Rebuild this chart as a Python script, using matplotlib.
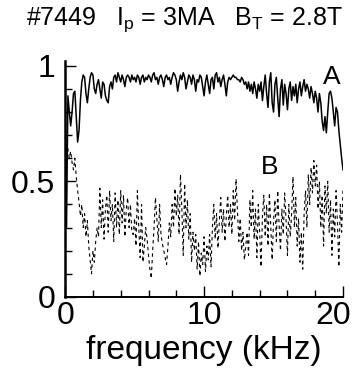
import numpy as np
import matplotlib
matplotlib.use("Agg")
import matplotlib.pyplot as plt
from matplotlib.transforms import ScaledTranslation

# coherence spectra, #7449 (0.1 kHz steps)
curve_A = [
    0.90, 0.30, 0.87, 0.80, 0.74, 0.80, 0.88, 0.89, 0.78, 0.67,
    0.72, 0.85, 0.93, 0.96, 0.95, 0.88, 0.84, 0.90, 0.95, 0.97,
    0.96, 0.90, 0.88, 0.92, 0.94, 0.90, 0.86, 0.93, 0.92, 0.87,
    0.85, 0.84, 0.91, 0.93, 0.90, 0.95, 0.96, 0.93, 0.97, 0.95,
    0.93, 0.96, 0.94, 0.91, 0.95, 0.96, 0.95, 0.93, 0.96, 0.94,
    0.95, 0.93, 0.96, 0.95, 0.92, 0.95, 0.96, 0.93, 0.95, 0.94,
    0.96, 0.95, 0.93, 0.96, 0.97, 0.94, 0.95, 0.92, 0.95, 0.96,
    0.94, 0.91, 0.95, 0.96, 0.94, 0.95, 0.92, 0.95, 0.97, 0.96,
    0.94, 0.89, 0.93, 0.96, 0.94, 0.97, 0.95, 0.90, 0.93, 0.96,
    0.95, 0.92, 0.96, 0.94, 0.89, 0.94, 0.93, 0.96, 0.95, 0.91,
    0.87, 0.93, 0.96, 0.92, 0.88, 0.94, 0.95, 0.90, 0.96, 0.97,
    0.93, 0.95, 0.91, 0.94, 0.96, 0.92, 0.87, 0.93, 0.95, 0.94,
    0.95, 0.96, 0.95, 0.95, 0.94, 0.94, 0.93, 0.95, 0.94, 0.92,
    0.93, 0.90, 0.93, 0.89, 0.92, 0.88, 0.93, 0.90, 0.86, 0.92,
    0.89, 0.93, 0.85, 0.91, 0.96, 0.88, 0.82, 0.93, 0.97, 0.84,
    0.80, 0.92, 0.95, 0.86, 0.78, 0.90, 0.94, 0.83, 0.92, 0.88,
    0.81, 0.90, 0.93, 0.85, 0.91, 0.87, 0.92, 0.84, 0.90, 0.93,
    0.87, 0.91, 0.94, 0.89, 0.92, 0.90, 0.86, 0.91, 0.88, 0.84,
    0.89, 0.86, 0.80, 0.88, 0.84, 0.76, 0.72, 0.78, 0.71, 0.80,
    0.88, 0.89, 0.86, 0.80, 0.74, 0.82, 0.80, 0.72, 0.66, 0.60,
    0.55,
]

curve_B = [
    0.62, 0.66, 0.64, 0.60, 0.63, 0.58, 0.55, 0.60, 0.52, 0.46,
    0.41, 0.35, 0.40, 0.30, 0.36, 0.26, 0.33, 0.22, 0.16, 0.10,
    0.20, 0.15, 0.24, 0.30, 0.26, 0.47, 0.30, 0.42, 0.25, 0.38,
    0.44, 0.28, 0.46, 0.33, 0.40, 0.24, 0.45, 0.30, 0.42, 0.27,
    0.46, 0.32, 0.44, 0.26, 0.38, 0.43, 0.30, 0.40, 0.28, 0.27,
    0.34, 0.22, 0.46, 0.30, 0.17, 0.40, 0.15, 0.22, 0.30, 0.25,
    0.18, 0.12, 0.08, 0.20, 0.30, 0.43, 0.34, 0.24, 0.40, 0.27,
    0.23, 0.20, 0.17, 0.14, 0.22, 0.32, 0.26, 0.40, 0.30, 0.47,
    0.35, 0.44, 0.27, 0.53, 0.38, 0.18, 0.49, 0.30, 0.42, 0.25,
    0.36, 0.15, 0.28, 0.20, 0.27, 0.12, 0.24, 0.09, 0.19, 0.14,
    0.26, 0.11, 0.22, 0.16, 0.27, 0.13, 0.30, 0.40, 0.25, 0.36,
    0.21, 0.33, 0.43, 0.28, 0.38, 0.24, 0.35, 0.44, 0.30, 0.40,
    0.27, 0.46, 0.33, 0.51, 0.37, 0.24, 0.34, 0.20, 0.28, 0.16,
    0.22, 0.28, 0.18, 0.42, 0.30, 0.46, 0.25, 0.38, 0.17, 0.40,
    0.28, 0.13, 0.35, 0.44, 0.26, 0.40, 0.22, 0.45, 0.30, 0.16,
    0.33, 0.42, 0.24, 0.46, 0.31, 0.20, 0.38, 0.27, 0.45, 0.33,
    0.18, 0.40, 0.26, 0.36, 0.52, 0.30, 0.43, 0.22, 0.34, 0.15,
    0.28, 0.12, 0.36, 0.46, 0.30, 0.53, 0.40, 0.56, 0.45, 0.59,
    0.48, 0.57, 0.38, 0.50, 0.30, 0.44, 0.22, 0.48, 0.36, 0.50,
    0.28, 0.42, 0.18, 0.38, 0.26, 0.46, 0.32, 0.13, 0.40, 0.28,
    0.47,
]

x_major = [0, 10, 20]
x_minor = [2, 4, 6, 8, 12, 14, 16, 18]
y_major = [0, 0.5, 1.0]
y_minor = [0.1, 0.2, 0.3, 0.4, 0.6, 0.7, 0.8, 0.9]
x_ticklabels = ["0", "10", "20"]
y_ticklabels = ["0", "0.5", "1"]

title = r"#7449   $\mathrm{I_p}$ = 3MA   $\mathrm{B_T}$ = 2.8T"

plt.rcParams["font.family"] = ["Liberation Sans", "DejaVu Sans"]
plt.rcParams["mathtext.fontset"] = "custom"
plt.rcParams["mathtext.rm"] = "Liberation Sans"

freq_A = np.linspace(0, 20, len(curve_A))
freq_B = np.linspace(0, 20, len(curve_B))

fig = plt.figure(figsize=(3.54, 3.73), dpi=100)
ax = fig.add_axes([0.184, 0.204, 0.785, 0.632])

ax.plot(freq_A, curve_A, color="black", lw=1.1)
ax.plot(freq_B, curve_B, color="black", lw=0.8, dashes=(3, 3))

ax.set_xlim(0, 20)
ax.set_ylim(0, 1.02)
ax.set_xticks(x_major)
ax.set_xticklabels(x_ticklabels)
ax.set_xticks(x_minor, minor=True)
ax.set_yticks(y_major)
ax.set_yticklabels(y_ticklabels)
ax.set_yticks(y_minor, minor=True)
ax.tick_params(which="major", direction="in", length=8, width=1, labelsize=23)
ax.tick_params(which="minor", direction="in", length=5, width=1)
ax.tick_params(axis="y", which="major", pad=7)
ax.tick_params(axis="x", which="major", pad=3)

# pull the "20" label in a little, as in the original
lbl = ax.get_xticklabels()[-1]
lbl.set_transform(lbl.get_transform() + ScaledTranslation(-7 / 72, 0, fig.dpi_scale_trans))

ax.spines["top"].set_visible(False)
ax.spines["right"].set_visible(False)
ax.spines["left"].set_linewidth(1.8)
ax.spines["bottom"].set_linewidth(1.4)

ax.set_xlabel("frequency (kHz)", fontsize=24, labelpad=3)
ax.text(19.2, 0.95, "A", fontsize=19, ha="center", va="center")
ax.text(14.7, 0.56, "B", fontsize=19, ha="center", va="center")

fig.text(0.52, 0.946, title, fontsize=18, ha="center", va="center")

fig.savefig("out.png", dpi=100)
